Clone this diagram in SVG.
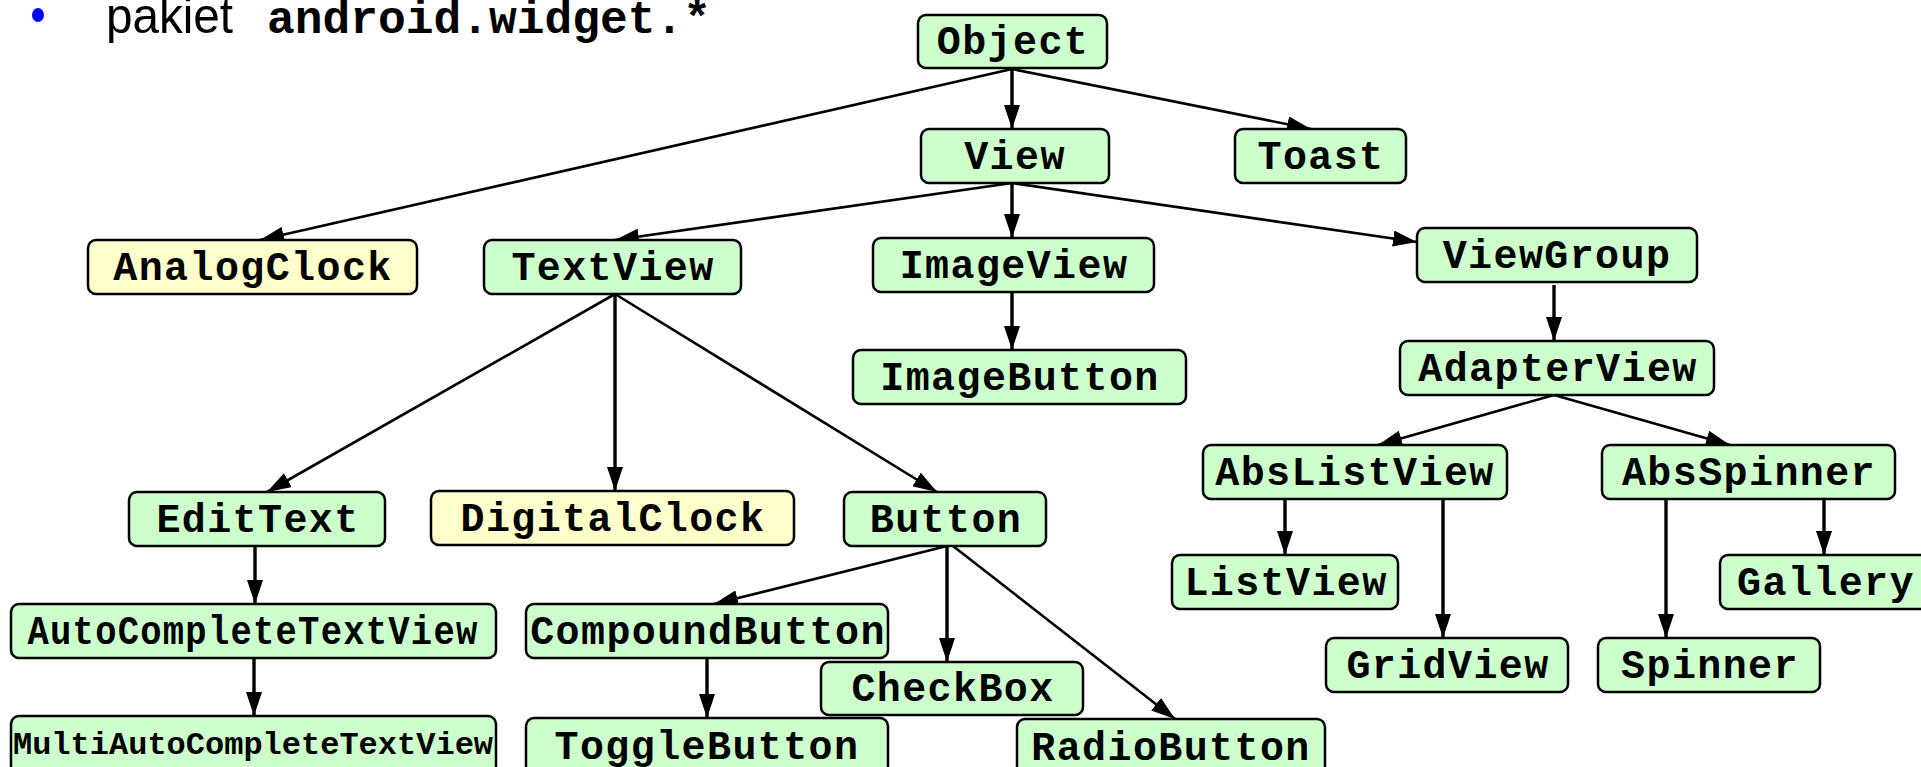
<svg xmlns="http://www.w3.org/2000/svg" width="1921" height="767" viewBox="0 0 1921 767">
<style>
.g{fill:#ccffcc;stroke:#000;stroke-width:2.5}
.y{fill:#ffffcc;stroke:#000;stroke-width:2.5}
.t{font-family:"Liberation Mono","Courier New",monospace;font-weight:bold;font-size:40px;letter-spacing:1.4px;text-anchor:middle;fill:#000}
.e{stroke:#000;stroke-width:2.6;fill:none;marker-end:url(#ah)}
.v{stroke-width:3.4}
</style>
<defs>
<marker id="ah" markerUnits="userSpaceOnUse" viewBox="0 0 24 16" refX="24" refY="8" markerWidth="24" markerHeight="16" orient="auto">
<path d="M0,0 L24,8 L0,16 z" fill="#000"/>
</marker>
</defs>
<rect width="1921" height="767" fill="#fff"/>
<g id="title">
<ellipse cx="38" cy="15" rx="6" ry="7" fill="#0000ff"/>
<text x="106" y="33" font-family="Liberation Sans, Arial, sans-serif" font-size="50" textLength="127" lengthAdjust="spacingAndGlyphs">pakiet</text>
<text x="267" y="33" font-family="Liberation Mono, Courier New, monospace" font-weight="bold" font-size="46" textLength="444" lengthAdjust="spacingAndGlyphs">android.widget.*</text>
</g>
<g id="connectors">
<line class="e v" x1="1012" y1="69" x2="1012" y2="129"/>
<line class="e" x1="1012" y1="69" x2="1311" y2="129"/>
<line class="e" x1="1012" y1="69" x2="260" y2="240"/>
<line class="e" x1="1012" y1="183" x2="615" y2="240"/>
<line class="e v" x1="1012" y1="183" x2="1012" y2="238"/>
<line class="e" x1="1012" y1="183" x2="1417" y2="242"/>
<line class="e v" x1="1012" y1="292" x2="1012" y2="350"/>
<line class="e v" x1="1554" y1="285" x2="1554" y2="341"/>
<line class="e" x1="1554" y1="395" x2="1378" y2="445"/>
<line class="e" x1="1554" y1="395" x2="1730" y2="445"/>
<line class="e" x1="615" y1="294" x2="267" y2="492"/>
<line class="e v" x1="615" y1="294" x2="615" y2="491"/>
<line class="e" x1="615" y1="294" x2="937" y2="492"/>
<line class="e v" x1="255" y1="546" x2="255" y2="604"/>
<line class="e v" x1="254" y1="658" x2="254" y2="716"/>
<line class="e" x1="947" y1="546" x2="714" y2="604"/>
<line class="e v" x1="947" y1="546" x2="947" y2="662"/>
<line class="e" x1="953" y1="546" x2="1175" y2="719"/>
<line class="e v" x1="707" y1="658" x2="707" y2="718"/>
<line class="e v" x1="1285" y1="499" x2="1285" y2="555"/>
<line class="e v" x1="1443" y1="499" x2="1443" y2="638"/>
<line class="e v" x1="1666" y1="499" x2="1666" y2="638"/>
<line class="e v" x1="1824" y1="499" x2="1824" y2="555"/>
</g>
<g id="n-object"><rect class="g" x="918" y="15" width="189" height="53" rx="8"/><text class="t" x="1013" y="54">Object</text></g>
<g id="n-view"><rect class="g" x="921" y="129" width="188" height="54" rx="8"/><text class="t" x="1015" y="169">View</text></g>
<g id="n-toast"><rect class="g" x="1235" y="129" width="171" height="54" rx="8"/><text class="t" x="1321" y="169">Toast</text></g>
<g id="n-analogclock"><rect class="y" x="88" y="240" width="329" height="54" rx="8"/><text class="t" x="253" y="280">AnalogClock</text></g>
<g id="n-textview"><rect class="g" x="484" y="240" width="257" height="54" rx="8"/><text class="t" x="613" y="280">TextView</text></g>
<g id="n-imageview"><rect class="g" x="873" y="238" width="281" height="54" rx="8"/><text class="t" x="1014" y="278">ImageView</text></g>
<g id="n-viewgroup"><rect class="g" x="1417" y="228" width="280" height="54" rx="8"/><text class="t" x="1557" y="268">ViewGroup</text></g>
<g id="n-imagebutton"><rect class="g" x="853" y="350" width="333" height="54" rx="8"/><text class="t" x="1020" y="390">ImageButton</text></g>
<g id="n-adapterview"><rect class="g" x="1400" y="341" width="314" height="54" rx="8"/><text class="t" x="1558" y="381">AdapterView</text></g>
<g id="n-abslistview"><rect class="g" x="1203" y="445" width="304" height="54" rx="8"/><text class="t" x="1355" y="485">AbsListView</text></g>
<g id="n-absspinner"><rect class="g" x="1602" y="445" width="293" height="54" rx="8"/><text class="t" x="1749" y="485">AbsSpinner</text></g>
<g id="n-edittext"><rect class="g" x="129" y="492" width="256" height="54" rx="8"/><text class="t" x="258" y="532">EditText</text></g>
<g id="n-digitalclock"><rect class="y" x="431" y="491" width="363" height="54" rx="8"/><text class="t" x="613" y="531">DigitalClock</text></g>
<g id="n-button"><rect class="g" x="844" y="492" width="202" height="54" rx="8"/><text class="t" x="946" y="532">Button</text></g>
<g id="n-listview"><rect class="g" x="1172" y="555" width="226" height="54" rx="8"/><text class="t" x="1286" y="595">ListView</text></g>
<g id="n-gallery"><rect class="g" x="1720" y="555" width="210" height="54" rx="8"/><text class="t" x="1826" y="595">Gallery</text></g>
<g id="n-autocompletetextview"><rect class="g" x="11" y="604" width="485" height="54" rx="8"/><text class="t" x="253" y="644" textLength="451" lengthAdjust="spacingAndGlyphs">AutoCompleteTextView</text></g>
<g id="n-compoundbutton"><rect class="g" x="526" y="604" width="362" height="54" rx="8"/><text class="t" x="708" y="644">CompoundButton</text></g>
<g id="n-checkbox"><rect class="g" x="821" y="662" width="262" height="53" rx="8"/><text class="t" x="953" y="701">CheckBox</text></g>
<g id="n-gridview"><rect class="g" x="1326" y="638" width="242" height="54" rx="8"/><text class="t" x="1448" y="678">GridView</text></g>
<g id="n-spinner"><rect class="g" x="1598" y="638" width="222" height="54" rx="8"/><text class="t" x="1710" y="678">Spinner</text></g>
<g id="n-multiautocompletetextview"><rect class="g" x="11" y="716" width="485" height="60" rx="8"/><text class="t" x="253" y="754" style="font-size:32px;letter-spacing:0">MultiAutoCompleteTextView</text></g>
<g id="n-togglebutton"><rect class="g" x="526" y="718" width="362" height="60" rx="8"/><text class="t" x="707" y="759">ToggleButton</text></g>
<g id="n-radiobutton"><rect class="g" x="1017" y="719" width="308" height="60" rx="8"/><text class="t" x="1171" y="760">RadioButton</text></g>
</svg>
